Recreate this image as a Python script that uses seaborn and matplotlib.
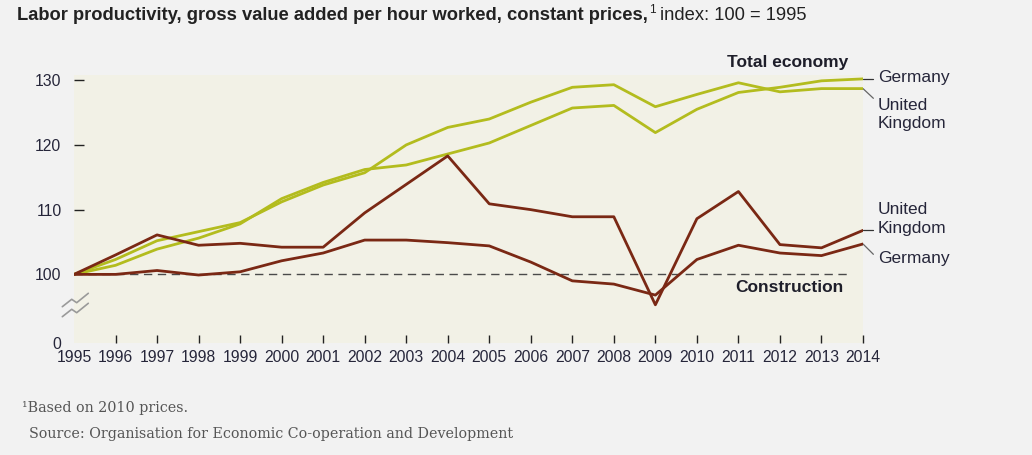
import numpy as np
import pandas as pd
import matplotlib
matplotlib.use("Agg")
import matplotlib.pyplot as plt
from matplotlib.lines import Line2D
import seaborn as sns

# index values, 1995 = 100
years = list(range(1995, 2015))
total_germany = [100, 101.4, 103.9, 105.6, 107.8, 111.7, 114.2, 116.2, 116.9, 118.6,
                 120.3, 123.0, 125.7, 126.1, 121.9, 125.5, 128.1, 128.9, 129.9, 130.2]
total_uk = [100, 102.3, 105.2, 106.6, 108.0, 111.2, 113.8, 115.7, 120.0, 122.7,
            124.0, 126.6, 128.9, 129.3, 125.9, 127.8, 129.6, 128.2, 128.7, 128.7]
constr_uk = [100, 103.0, 106.1, 104.5, 104.8, 104.2, 104.2, 109.5, 113.9, 118.3,
             110.9, 110.0, 108.9, 108.9, 95.3, 108.6, 112.8, 104.6, 104.1, 106.8]
constr_germany = [100, 100.0, 100.6, 99.9, 100.4, 102.1, 103.3, 105.3, 105.3, 104.9,
                  104.4, 101.9, 99.0, 98.5, 96.8, 102.3, 104.5, 103.3, 102.9, 104.7]

ytick_vals = [100, 110, 120, 130]
y_break = 89.4  # bottom of the axis, shown as 0

GREEN = "#b3bc1e"
BROWN = "#7a2814"
TEXT = "#26263a"

sns.set_theme(style="white")
plt.rcParams["font.family"] = ["Liberation Sans", "DejaVu Sans"]

df = pd.DataFrame({
    "year": years * 4,
    "value": total_germany + total_uk + constr_uk + constr_germany,
    "series": (["tg"] * 20) + (["tu"] * 20) + (["cu"] * 20) + (["cg"] * 20),
})
palette = {"tg": GREEN, "tu": GREEN, "cu": BROWN, "cg": BROWN}

fig = plt.figure(figsize=(10.32, 4.55), dpi=100, facecolor="#f2f2f2")
ax = fig.add_axes([74 / 1032, 1 - 343 / 455, (863 - 74) / 1032, (343 - 75) / 455])
ax.set_facecolor("#f2f1e6")

ax.axhline(100, color="#4a4a4a", lw=1.0, ls=(0, (6, 4)), xmax=0.98, zorder=1)

sns.lineplot(data=df, x="year", y="value", hue="series", units="series",
             estimator=None, palette=palette, lw=2.0, legend=False, ax=ax, zorder=3)

ax.set_xlim(1995, 2014)
ax.set_ylim(y_break, 130.8)
for s in ax.spines.values():
    s.set_visible(False)

ax.set_xticks(years)
ax.set_xticklabels([str(y) for y in years], fontsize=11.3, color=TEXT)
ax.set_yticks([y_break] + ytick_vals)
ax.set_yticklabels(["0"] + [str(v) for v in ytick_vals], fontsize=11.3, color=TEXT)
ax.tick_params(axis="x", direction="in", length=6, width=1, color="#222222", pad=5, bottom=True)
ax.tick_params(axis="y", direction="in", length=7, width=1, color="#222222", pad=9, left=True)
ax.xaxis.get_major_ticks()[0].tick1line.set_visible(False)
yt = ax.yaxis.get_major_ticks()
yt[0].tick1line.set_visible(False)
yt[1].tick1line.set_visible(False)
ax.set_xlabel("")
ax.set_ylabel("")

# axis break mark
for dy in (0, 10):
    xs = np.array([62.3, 71.7, 76.7, 88.3]) / 1032
    ys = 1 - (np.array([306.7, 299.3, 302.7, 293.3]) + dy) / 455
    fig.add_artist(Line2D(xs, ys, color="#9a9a9a", lw=1.2, transform=fig.transFigure))

# series labels
lab_x = 2014.36
lead_x = 2014.25
kw = dict(fontsize=12.5, color=TEXT, va="center", ha="left", linespacing=1.3)
ax.plot([2014, lead_x], [total_germany[-1], total_germany[-1]], color="#333333", lw=0.9, clip_on=False)
ax.text(lab_x, 130.4, "Germany", **kw)
ax.plot([2014, lead_x], [total_uk[-1], 127.2], color="#666666", lw=0.9, clip_on=False)
ax.text(lab_x, 124.7, "United\nKingdom", **kw)
ax.plot([2014, lead_x], [constr_uk[-1], constr_uk[-1]], color="#333333", lw=0.9, clip_on=False)
ax.text(lab_x, 108.6, "United\nKingdom", **kw)
ax.plot([2014, lead_x], [constr_germany[-1], 103.1], color="#666666", lw=0.9, clip_on=False)
ax.text(lab_x, 102.4, "Germany", **kw)

ax.text(2013.65, 132.8, "Total economy", fontsize=12.5, fontweight="bold", color="#1e1e2a",
        ha="right", va="center", clip_on=False)
ax.text(2013.53, 98.0, "Construction", fontsize=12.5, fontweight="bold", color="#1e1e2a",
        ha="right", va="center")

# title, built from pieces placed one after the other
renderer = fig.canvas.get_renderer()
ty = 1 - 15 / 455
t1 = fig.text(17 / 1032, ty, "Labor productivity, gross value added per hour worked, constant prices,",
              fontsize=13.2, fontweight="bold", color="#222222", va="center", ha="left")
x1 = t1.get_window_extent(renderer).x1
t2 = fig.text((x1 + 1) / 1032, ty + 5 / 455, "1", fontsize=8.5, color="#222222", va="center", ha="left")
x2 = t2.get_window_extent(renderer).x1
fig.text((x2 + 4) / 1032, ty, "index: 100 = 1995", fontsize=13.2, color="#222222",
         va="center", ha="left")

# footnotes
fig.text(22 / 1032, 1 - 408 / 455, "¹Based on 2010 prices.", family="DejaVu Serif",
         fontsize=10.3, color="#555555", va="center")
fig.text(29 / 1032, 1 - 434 / 455, "Source: Organisation for Economic Co-operation and Development",
         family="DejaVu Serif", fontsize=10.3, color="#555555", va="center")

fig.savefig("out.png", dpi=100, facecolor=fig.get_facecolor())
